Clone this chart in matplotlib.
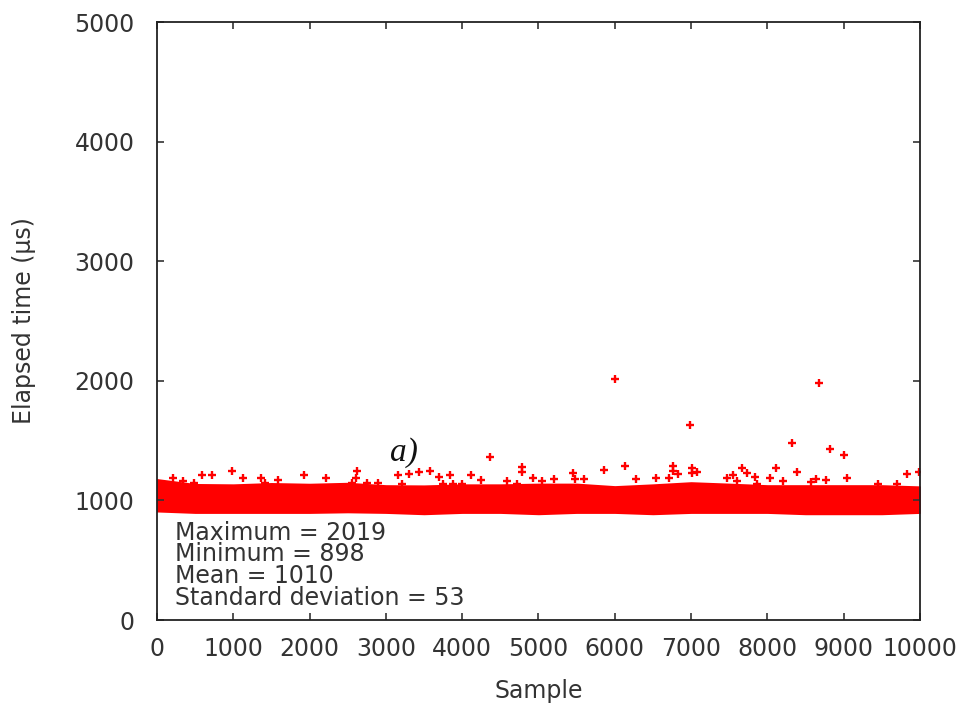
import matplotlib
matplotlib.use("Agg")
import matplotlib.pyplot as plt

muestras_banda = [0, 500, 1000, 1500, 2000, 2500, 3000, 3500, 4000, 4500, 5000,
                  5500, 6000, 6500, 7000, 7500, 8000, 8500, 9000, 9500, 10000]
banda_sup = [1171, 1130, 1127, 1138, 1132, 1140, 1120, 1118, 1127, 1127, 1133,
             1133, 1112, 1127, 1145, 1133, 1120, 1120, 1120, 1120, 1110]
banda_inf = [915, 903, 903, 903, 903, 908, 903, 892, 903, 903, 892,
             903, 903, 892, 903, 903, 903, 892, 892, 892, 903]

# Muestras aisladas por encima de la banda
atipicos_x = [6000, 8680, 6982, 8326, 8820, 9000, 4364, 5854, 6130, 5456,
              6763, 6767, 6824, 7008, 7008, 7081, 7671, 7737, 7553, 7474,
              7833, 8109, 8030, 8384, 9830, 9987, 8641, 9039, 6544, 6706,
              6274, 5199, 5042, 5478, 5600, 8208, 9453, 9694, 7860, 4788,
              4788, 2617, 987, 594, 725, 214, 1931, 3162, 3303, 3438,
              3582, 3696, 3840, 4115, 4246, 4932, 1127, 1359, 1582, 2211,
              2604, 341, 489, 1415, 2560, 2748, 2893, 3215, 3752, 3883,
              3993, 4583, 4714, 7598, 8763, 8567]
atipicos_y = [2019, 1982, 1628, 1477, 1427, 1377, 1360, 1252, 1288, 1227,
              1288, 1246, 1223, 1273, 1227, 1237, 1273, 1227, 1212, 1187,
              1198, 1273, 1187, 1237, 1223, 1237, 1176, 1187, 1187, 1187,
              1176, 1176, 1162, 1176, 1176, 1162, 1137, 1137, 1137, 1282,
              1240, 1246, 1246, 1215, 1215, 1185, 1215, 1215, 1223, 1235,
              1246, 1198, 1215, 1215, 1173, 1185, 1190, 1185, 1173, 1185,
              1185, 1160, 1148, 1148, 1148, 1148, 1148, 1137, 1135, 1137,
              1137, 1160, 1135, 1162, 1171, 1151]

estadisticas = ["Maximum = 2019", "Minimum = 898", "Mean = 1010",
                "Standard deviation = 53"]
ticks_x = [0, 1000, 2000, 3000, 4000, 5000, 6000, 7000, 8000, 9000, 10000]
ticks_y = [0, 1000, 2000, 3000, 4000, 5000]

plt.rcParams['font.family'] = ['DejaVu Sans']
plt.rcParams['font.size'] = 17

fig = plt.figure(figsize=(9.63, 7.04), dpi=100)
ax = fig.add_axes([0.163, 0.1193, 0.7923, 0.8494])

rojo = '#ff0000'
ax.fill_between(muestras_banda, banda_inf, banda_sup, color=rojo,
                linewidth=2, edgecolor=rojo)
ax.plot(atipicos_x, atipicos_y, linestyle='none', marker='+', color=rojo,
        markersize=6, markeredgewidth=1.7)

ax.set_xlim(0, 10000)
ax.set_ylim(0, 5000)
ax.set_xticks(ticks_x)
ax.set_yticks(ticks_y)
ax.tick_params(direction='in', length=5, width=1.2, top=True, right=True,
               labelcolor='#333333', color='#333333')
ax.tick_params(axis='y', pad=16)
ax.tick_params(axis='x', pad=12)
for s in ax.spines.values():
    s.set_linewidth(1.3)
    s.set_color('#222222')

ax.set_xlabel("Sample", color='#333333', labelpad=13)
ax.set_ylabel("Elapsed time (μs)", color='#333333', labelpad=28)

# Texto de estadisticas
y_lineas = [672, 490, 306, 122]
for texto, yy in zip(estadisticas, y_lineas):
    ax.text(236, yy, texto, color='#333333', va='baseline', ha='left')

ax.text(3054, 1396, "a)", family='Liberation Serif', style='italic',
        fontsize=24, va='center', ha='left', color='#111111')

plt.savefig("out.png", dpi=100)
print("Gráfico guardado como out.png")
